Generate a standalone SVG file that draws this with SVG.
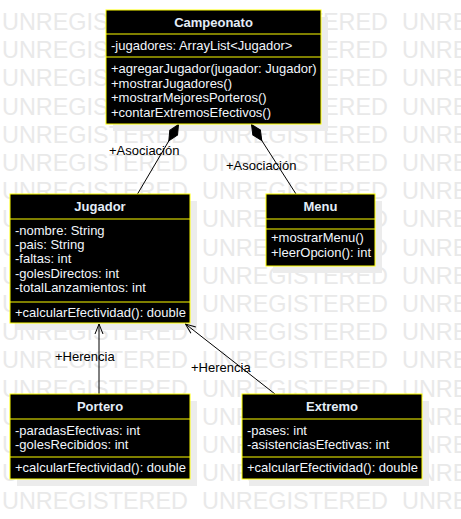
<svg xmlns="http://www.w3.org/2000/svg" width="461" height="519" viewBox="0 0 461 519">
<style>
.wm{font-family:"Liberation Sans",Arial,sans-serif;font-size:23.4px;fill:#e9e9e9}
.shadow{fill:#ececec}
.box{fill:#000;stroke:#ffff00;stroke-width:1}
.sep{stroke:#ffff00;stroke-width:1}
.title{font-family:"Liberation Sans",Arial,sans-serif;font-size:13px;font-weight:bold;fill:#e4edf8;text-anchor:middle}
.mem{font-family:"Liberation Sans",Arial,sans-serif;font-size:13px;fill:#f2f6fc}
.lbl{font-family:"Liberation Sans",Arial,sans-serif;font-size:13px;fill:#000}
.edge{stroke:#000;stroke-width:1;fill:none}
</style>
<defs>
<marker id="diamond" viewBox="0 -6 20 12" markerWidth="20" markerHeight="12" refX="0" refY="0" orient="auto" markerUnits="userSpaceOnUse">
<path d="M0,0 L9.5,-4.5 L19,0 L9.5,4.5 Z" fill="#000" stroke="#000" stroke-width="1"/>
</marker>
<marker id="open" viewBox="-12 -6 13 12" markerWidth="13" markerHeight="12" refX="0" refY="0" orient="auto" markerUnits="userSpaceOnUse">
<path d="M-10,-4 L0,0 L-10,4" fill="none" stroke="#000" stroke-width="1"/>
</marker>
</defs>
<g id="watermark">
<text class="wm" y="30"><tspan x="2" textLength="186">UNREGISTERED</tspan><tspan x="202" textLength="186">UNREGISTERED</tspan><tspan x="402" textLength="186">UNREGISTERED</tspan></text>
<text class="wm" y="58.2"><tspan x="2" textLength="186">UNREGISTERED</tspan><tspan x="202" textLength="186">UNREGISTERED</tspan><tspan x="402" textLength="186">UNREGISTERED</tspan></text>
<text class="wm" y="86.4"><tspan x="2" textLength="186">UNREGISTERED</tspan><tspan x="202" textLength="186">UNREGISTERED</tspan><tspan x="402" textLength="186">UNREGISTERED</tspan></text>
<text class="wm" y="114.6"><tspan x="2" textLength="186">UNREGISTERED</tspan><tspan x="202" textLength="186">UNREGISTERED</tspan><tspan x="402" textLength="186">UNREGISTERED</tspan></text>
<text class="wm" y="142.8"><tspan x="2" textLength="186">UNREGISTERED</tspan><tspan x="202" textLength="186">UNREGISTERED</tspan><tspan x="402" textLength="186">UNREGISTERED</tspan></text>
<text class="wm" y="171"><tspan x="2" textLength="186">UNREGISTERED</tspan><tspan x="202" textLength="186">UNREGISTERED</tspan><tspan x="402" textLength="186">UNREGISTERED</tspan></text>
<text class="wm" y="199.2"><tspan x="2" textLength="186">UNREGISTERED</tspan><tspan x="202" textLength="186">UNREGISTERED</tspan><tspan x="402" textLength="186">UNREGISTERED</tspan></text>
<text class="wm" y="227.4"><tspan x="2" textLength="186">UNREGISTERED</tspan><tspan x="202" textLength="186">UNREGISTERED</tspan><tspan x="402" textLength="186">UNREGISTERED</tspan></text>
<text class="wm" y="255.6"><tspan x="2" textLength="186">UNREGISTERED</tspan><tspan x="202" textLength="186">UNREGISTERED</tspan><tspan x="402" textLength="186">UNREGISTERED</tspan></text>
<text class="wm" y="283.8"><tspan x="2" textLength="186">UNREGISTERED</tspan><tspan x="202" textLength="186">UNREGISTERED</tspan><tspan x="402" textLength="186">UNREGISTERED</tspan></text>
<text class="wm" y="312"><tspan x="2" textLength="186">UNREGISTERED</tspan><tspan x="202" textLength="186">UNREGISTERED</tspan><tspan x="402" textLength="186">UNREGISTERED</tspan></text>
<text class="wm" y="340.2"><tspan x="2" textLength="186">UNREGISTERED</tspan><tspan x="202" textLength="186">UNREGISTERED</tspan><tspan x="402" textLength="186">UNREGISTERED</tspan></text>
<text class="wm" y="368.4"><tspan x="2" textLength="186">UNREGISTERED</tspan><tspan x="202" textLength="186">UNREGISTERED</tspan><tspan x="402" textLength="186">UNREGISTERED</tspan></text>
<text class="wm" y="396.6"><tspan x="2" textLength="186">UNREGISTERED</tspan><tspan x="202" textLength="186">UNREGISTERED</tspan><tspan x="402" textLength="186">UNREGISTERED</tspan></text>
<text class="wm" y="424.8"><tspan x="2" textLength="186">UNREGISTERED</tspan><tspan x="202" textLength="186">UNREGISTERED</tspan><tspan x="402" textLength="186">UNREGISTERED</tspan></text>
<text class="wm" y="453"><tspan x="2" textLength="186">UNREGISTERED</tspan><tspan x="202" textLength="186">UNREGISTERED</tspan><tspan x="402" textLength="186">UNREGISTERED</tspan></text>
<text class="wm" y="481.2"><tspan x="2" textLength="186">UNREGISTERED</tspan><tspan x="202" textLength="186">UNREGISTERED</tspan><tspan x="402" textLength="186">UNREGISTERED</tspan></text>
<text class="wm" y="509.4"><tspan x="2" textLength="186">UNREGISTERED</tspan><tspan x="202" textLength="186">UNREGISTERED</tspan><tspan x="402" textLength="186">UNREGISTERED</tspan></text>
</g>
<g id="shadows">
<rect class="shadow" x="113" y="17" width="215" height="114"/>
<rect class="shadow" x="17" y="201" width="180" height="129"/>
<rect class="shadow" x="273" y="201" width="109" height="72"/>
<rect class="shadow" x="17" y="401" width="180" height="85"/>
<rect class="shadow" x="249" y="401" width="180" height="85"/>
</g>
<g id="connectors">
<path class="edge" d="M178.5,124.5 L137.5,194" marker-start="url(#diamond)"/>
<text class="lbl" x="109" y="155">+Asociación</text>
<path class="edge" d="M251.5,124.5 L296,194" marker-start="url(#diamond)"/>
<text class="lbl" x="226" y="170">+Asociación</text>
<path class="edge" d="M99,394 L99,324" marker-end="url(#open)"/>
<text class="lbl" x="55" y="361">+Herencia</text>
<path class="edge" d="M275,394 L185.5,324" marker-end="url(#open)"/>
<text class="lbl" x="191" y="372">+Herencia</text>
</g>
<g id="Campeonato">
<rect class="box" x="106" y="10" width="215" height="114"/>
<line class="sep" x1="106" y1="34" x2="321" y2="34"/>
<line class="sep" x1="106" y1="57" x2="321" y2="57"/>
<text class="title" x="213.5" y="27">Campeonato</text>
<text class="mem" x="111" y="50">-jugadores: ArrayList&lt;Jugador&gt;</text>
<text class="mem" x="111" y="73">+agregarJugador(jugador: Jugador)</text>
<text class="mem" x="111" y="87.5">+mostrarJugadores()</text>
<text class="mem" x="111" y="102">+mostrarMejoresPorteros()</text>
<text class="mem" x="111" y="116.5">+contarExtremosEfectivos()</text>
</g>
<g id="Jugador">
<rect class="box" x="10" y="194" width="180" height="129"/>
<line class="sep" x1="10" y1="219" x2="190" y2="219"/>
<line class="sep" x1="10" y1="302" x2="190" y2="302"/>
<text class="title" x="100" y="211">Jugador</text>
<text class="mem" x="15" y="234.5">-nombre: String</text>
<text class="mem" x="15" y="248.5">-pais: String</text>
<text class="mem" x="15" y="263">-faltas: int</text>
<text class="mem" x="15" y="277.5">-golesDirectos: int</text>
<text class="mem" x="15" y="292">-totalLanzamientos: int</text>
<text class="mem" x="15" y="316.5">+calcularEfectividad(): double</text>
</g>
<g id="Menu">
<rect class="box" x="266" y="194" width="109" height="72"/>
<line class="sep" x1="266" y1="219" x2="375" y2="219"/>
<line class="sep" x1="266" y1="229" x2="375" y2="229"/>
<text class="title" x="320.5" y="211">Menu</text>
<text class="mem" x="271" y="241.5">+mostrarMenu()</text>
<text class="mem" x="271" y="256.5">+leerOpcion(): int</text>
</g>
<g id="Portero">
<rect class="box" x="10" y="394" width="180" height="85"/>
<line class="sep" x1="10" y1="419" x2="190" y2="419"/>
<line class="sep" x1="10" y1="457" x2="190" y2="457"/>
<text class="title" x="100" y="410.5">Portero</text>
<text class="mem" x="15" y="434.5">-paradasEfectivas: int</text>
<text class="mem" x="15" y="448.5">-golesRecibidos: int</text>
<text class="mem" x="15" y="472">+calcularEfectividad(): double</text>
</g>
<g id="Extremo">
<rect class="box" x="242" y="394" width="180" height="85"/>
<line class="sep" x1="242" y1="419" x2="422" y2="419"/>
<line class="sep" x1="242" y1="457" x2="422" y2="457"/>
<text class="title" x="332" y="410.5">Extremo</text>
<text class="mem" x="247" y="434.5">-pases: int</text>
<text class="mem" x="247" y="448.5">-asistenciasEfectivas: int</text>
<text class="mem" x="247" y="472">+calcularEfectividad(): double</text>
</g>
</svg>
